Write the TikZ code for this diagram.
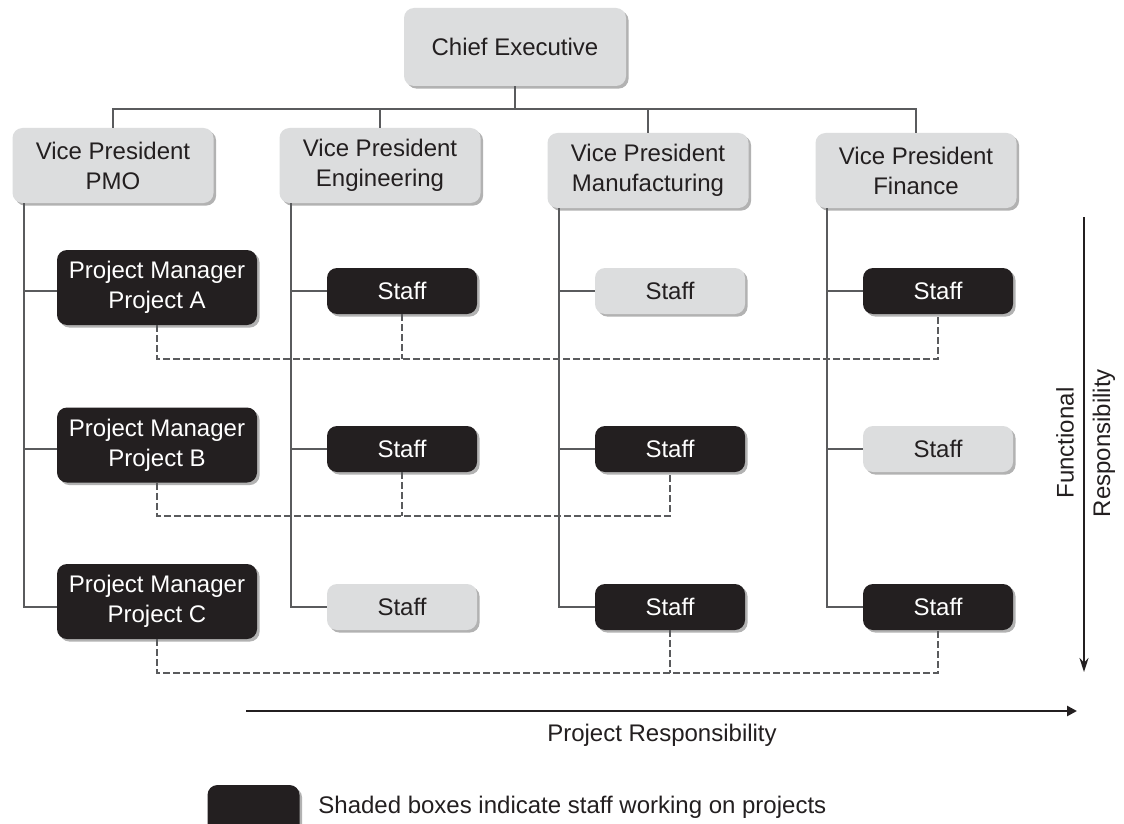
\documentclass[tikz,border=0pt]{standalone}
\usepackage{fontspec}
\setmainfont{Liberation Sans}
\usetikzlibrary{shadows,arrows.meta,calc}
\definecolor{boxgray}{HTML}{DCDDDE}
\definecolor{boxblack}{HTML}{231F20}
\definecolor{txtdark}{HTML}{231F20}
\definecolor{linegray}{HTML}{5A5B5D}
\begin{document}
\begin{tikzpicture}[x=0.5pt,y=-0.5pt,
  lbl/.style={font=\fontsize{12}{15}\selectfont, text=txtdark, inner sep=1pt},
  box/.style={rounded corners=5pt, inner sep=0pt, align=center,
    font=\fontsize{12}{15}\selectfont,
    drop shadow={shadow xshift=1.3pt, shadow yshift=-1.3pt, fill=black, opacity=0.3}},
  gbox/.style={box, fill=boxgray, text=txtdark},
  bbox/.style={box, fill=boxblack, text=white},
  vpbox/.style={gbox, minimum width=100.5pt, minimum height=37.5pt},
  pmbox/.style={bbox, minimum width=100pt, minimum height=37.5pt},
  staffg/.style={gbox, minimum width=75pt, minimum height=23pt},
  staffb/.style={bbox, minimum width=75pt, minimum height=23pt},
  tree/.style={draw=linegray, line width=1pt},
  proj/.style={draw=linegray, line width=0.7pt, dash pattern=on 3.5pt off 1.5pt},
  farrow/.style={draw=txtdark, line width=0.8pt, -{Stealth[length=7pt,width=4.5pt]}},
  parrow/.style={draw=txtdark, line width=1.4pt, -{Triangle[length=5pt,width=5pt]}}
]
\fill[white] (0,0) rectangle (1124,824);
\clip (0,0) rectangle (1124,824);

% nodes
\node[vpbox, minimum width=111pt, minimum height=39pt] (ce) at (515,47) {Chief Executive};
\node[vpbox] (vp1) at (113,165.5) {Vice President\\PMO};
\node[vpbox] (vp2) at (380,165.5) {Vice President\\Engineering};
\node[vpbox] (vp3) at (648,170.5) {Vice President\\Manufacturing};
\node[vpbox] (vp4) at (916,170.5) {Vice President\\Finance};

\node[pmbox] (pa) at (157,287.5) {Project Manager\\Project A};
\node[pmbox] (pb) at (157,445) {Project Manager\\Project B};
\node[pmbox] (pc) at (157,601.5) {Project Manager\\Project C};

\node[staffb] (ea) at (402,291) {Staff};
\node[staffb] (eb) at (402,449) {Staff};
\node[staffg] (ec) at (402,607) {Staff};
\node[staffg] (ma) at (670,291) {Staff};
\node[staffb] (mb) at (670,449) {Staff};
\node[staffb] (mc) at (670,607) {Staff};
\node[staffb] (fa) at (938,291) {Staff};
\node[staffg] (fb) at (938,449) {Staff};
\node[staffb] (fc) at (938,607) {Staff};

% top tree
\coordinate (bus) at (515,109);
\draw[tree] (ce.south) -- (bus);
\draw[tree] (vp1.north) |- (bus) -| (vp4.north);
\draw[tree] (vp2.north) -- (vp2.north |- bus);
\draw[tree] (vp3.north) -- (vp3.north |- bus);

% column lines
\coordinate (c1) at (24,203);
\coordinate (c2) at (291,203);
\coordinate (c3) at (559,208);
\coordinate (c4) at (827,208);
\draw[tree] (c1) |- (pc.west |- ec);
\draw[tree] (c1 |- ea) -- (pa.west |- ea);
\draw[tree] (c1 |- eb) -- (pb.west |- eb);
\draw[tree] (c2) |- (ec.west);
\draw[tree] (c2 |- ea) -- (ea.west);
\draw[tree] (c2 |- eb) -- (eb.west);
\draw[tree] (c3) |- (mc.west);
\draw[tree] (c3 |- ma) -- (ma.west);
\draw[tree] (c3 |- mb) -- (mb.west);
\draw[tree] (c4) |- (fc.west);
\draw[tree] (c4 |- fa) -- (fa.west);
\draw[tree] (c4 |- fb) -- (fb.west);

% project (dashed) links
\coordinate (dA) at (157,359);
\coordinate (dB) at (157,516);
\coordinate (dC) at (157,673);
\draw[proj] (pa.south) |- (fa.south |- dA) -- (fa.south);
\draw[proj] (ea.south) -- (ea.south |- dA);
\draw[proj] (pb.south) |- (mb.south |- dB) -- (mb.south);
\draw[proj] (eb.south) -- (eb.south |- dB);
\draw[proj] (pc.south) |- (fc.south |- dC) -- (fc.south);
\draw[proj] (mc.south) -- (mc.south |- dC);

% functional responsibility arrow
\coordinate (ft) at (1084,217);
\coordinate (fe) at (1084,672);
\draw[farrow] (ft) -- (fe);
\node[lbl, rotate=90] (fl1) at (1065,443) {Functional};
\node[lbl, rotate=90] (fl2) at (1104,443) {Responsibility};

% project responsibility arrow
\coordinate (ps) at (246,711);
\coordinate (pe) at (1077,711);
\draw[parrow] (ps) -- (pe);
\node[lbl] (prl) at (662,735) {Project Responsibility};

% legend
\node[bbox, minimum width=46pt, minimum height=26pt] (leg) at (253.5,811) {};
\node[lbl, anchor=west] (legt) at (316,807) {Shaded boxes indicate staff working on projects};
\end{tikzpicture}
\end{document}
